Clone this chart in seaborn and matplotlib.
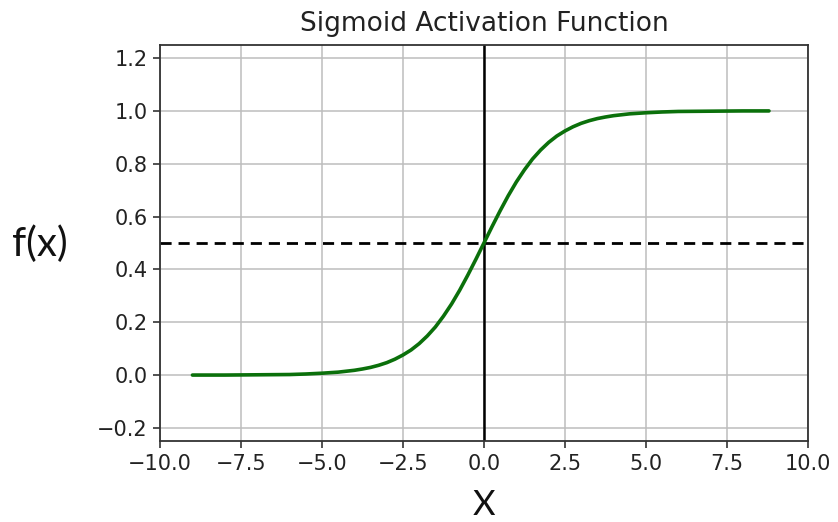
import matplotlib
matplotlib.use("Agg")
import matplotlib.pyplot as plt
import seaborn as sns
import pandas as pd

# curve values
x_vals = [-9, -8, -7, -6, -5.5, -5, -4.5, -4, -3.75, -3.5, -3.25, -3, -2.75, -2.5,
          -2.25, -2, -1.75, -1.5, -1.25, -1, -0.75, -0.5, -0.25, 0, 0.25, 0.5,
          0.75, 1, 1.25, 1.5, 1.75, 2, 2.25, 2.5, 2.75, 3, 3.25, 3.5, 3.75, 4,
          4.5, 5, 5.5, 6, 7, 8, 8.8]
y_vals = [0.000, 0.000, 0.001, 0.002, 0.004, 0.007, 0.011, 0.018, 0.023, 0.029,
          0.037, 0.047, 0.060, 0.076, 0.095, 0.119, 0.148, 0.182, 0.223, 0.269,
          0.321, 0.378, 0.438, 0.500, 0.562, 0.622, 0.679, 0.731, 0.777, 0.818,
          0.852, 0.881, 0.905, 0.924, 0.940, 0.953, 0.963, 0.971, 0.977, 0.982,
          0.989, 0.993, 0.996, 0.998, 0.999, 1.000, 1.000]
x_ticks = [-10.0, -7.5, -5.0, -2.5, 0.0, 2.5, 5.0, 7.5, 10.0]
y_ticks = [-0.2, 0.0, 0.2, 0.4, 0.6, 0.8, 1.0, 1.2]
threshold = 0.5

df = pd.DataFrame({"x": x_vals, "y": y_vals})

sns.set_theme(style="ticks")
plt.rcParams["font.family"] = ["DejaVu Sans"]

fig = plt.figure(figsize=(8.38, 5.22), dpi=100)
ax = fig.add_axes([0.191, 0.155, 0.773, 0.759])

ax.grid(True, color="#bdbdbd", linewidth=1.1)
ax.set_axisbelow(True)

ax.axhline(threshold, color="black", linestyle="--", linewidth=2.0, dashes=(4, 2.5))
ax.axvline(0, color="black", linewidth=1.8)
sns.lineplot(data=df, x="x", y="y", color="#0b700b", linewidth=2.6,
             estimator=None, ax=ax)

ax.set_xlim(-10, 10)
ax.set_ylim(-0.25, 1.25)
ax.set_xticks(x_ticks)
ax.set_yticks(y_ticks)
ax.set_xticklabels([f"{t:.1f}".replace("-", "\u2212") for t in x_ticks])
ax.set_yticklabels([f"{t:.1f}".replace("-", "\u2212") for t in y_ticks])
ax.tick_params(labelsize=15, length=5, width=1.2, color="#333333",
               labelcolor="#222222", direction="out", pad=4)
for s in ax.spines.values():
    s.set_color("#333333")
    s.set_linewidth(1.3)

ax.set_title("Sigmoid Activation Function", fontsize=19, pad=10, color="#222222")
ax.set_xlabel("")
ax.set_ylabel("")
fig.text(0.047, 0.532, "f(x)", fontsize=29, family=["Lato", "DejaVu Sans"],
         ha="center", va="center", color="#111111")
fig.text(0.578, 0.033, "X", fontsize=25, family=["Lato", "DejaVu Sans"],
         ha="center", va="center", color="#111111")

fig.savefig("out.png", dpi=100)
